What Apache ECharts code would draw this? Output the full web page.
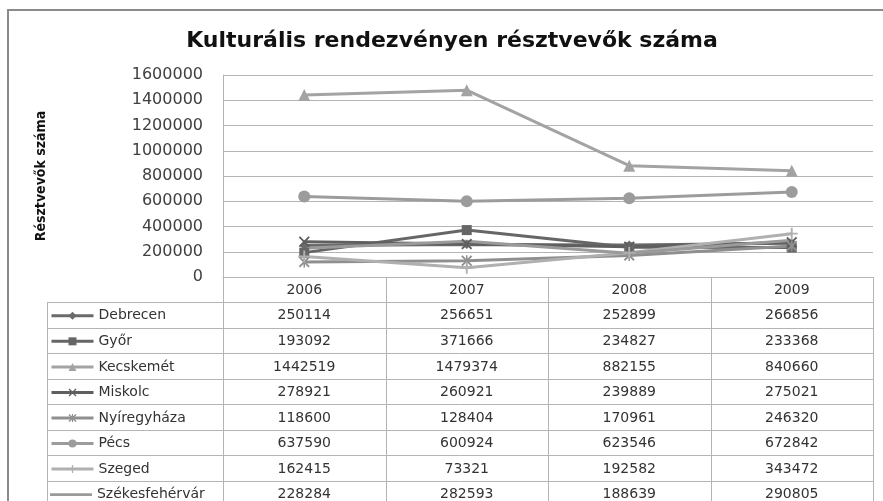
<!DOCTYPE html>
<html>
<head>
<meta charset="utf-8">
<script src="https://cdn.jsdelivr.net/npm/echarts@6/dist/echarts.min.js"></script>
<style>
html,body{margin:0;padding:0;background:#fff;overflow:hidden;}
#c{width:883px;height:501px;}
</style>
</head>
<body>
<div id="c"></div>
<script>
// ---- data ----
const years = ['2006', '2007', '2008', '2009'];
const cities = ['Debrecen', 'Győr', 'Kecskemét', 'Miskolc', 'Nyíregyháza', 'Pécs', 'Szeged', 'Székesfehérvár'];
const debrecen = [250114, 256651, 252899, 266856];
const gyor = [193092, 371666, 234827, 233368];
const kecskemet = [1442519, 1479374, 882155, 840660];
const miskolc = [278921, 260921, 239889, 275021];
const nyiregyhaza = [118600, 128404, 170961, 246320];
const pecs = [637590, 600924, 623546, 672842];
const szeged = [162415, 73321, 192582, 343472];
const szekesfehervar = [228284, 282593, 188639, 290805];
const yTicks = [0, 200000, 400000, 600000, 800000, 1000000, 1200000, 1400000, 1600000];
const titleText = 'Kulturális rendezvényen résztvevők száma';
const yTitle = 'Résztvevők száma';

const values = [debrecen, gyor, kecskemet, miskolc, nyiregyhaza, pecs, szeged, szekesfehervar];

// ---- styles ----
const X_PATH = 'path://M1.2,0L5,3.8L8.8,0L10,1.2L6.2,5L10,8.8L8.8,10L5,6.2L1.2,10L0,8.8L3.8,5L0,1.2Z';
const AST_PATH = 'path://M1.2,0L5,3.8L8.8,0L10,1.2L6.2,5L10,8.8L8.8,10L5,6.2L1.2,10L0,8.8L3.8,5L0,1.2Z M4.3,0L5.7,0L5.7,10L4.3,10Z';
const PLUS_PATH = 'path://M4.2,0L5.8,0L5.8,4.2L10,4.2L10,5.8L5.8,5.8L5.8,10L4.2,10L4.2,5.8L0,5.8L0,4.2L4.2,4.2Z';
const LINE_ICON = 'path://M0,3.6L42,3.6L42,6.4L0,6.4Z M0,0L0.01,0L0.01,0.01Z M0,10L0.01,10L0.01,10.01Z';
const styles = [
  {color: '#6b6b6b', symbol: 'diamond', size: 9},
  {color: '#666666', symbol: 'rect', size: 10},
  {color: '#a3a3a3', symbol: 'triangle', size: 12},
  {color: '#5f5f5f', symbol: X_PATH, size: 11},
  {color: '#8f8f8f', symbol: AST_PATH, size: 11},
  {color: '#9c9c9c', symbol: 'circle', size: 12},
  {color: '#b0b0b0', symbol: PLUS_PATH, size: 12},
  {color: '#9a9a9a', symbol: 'none', size: 0}
];

// ---- layout ----
const GL = 223, GT = 75, GW = 650, GH = 202;
const colW = GW / years.length;
const headTop = GT + GH;          // 277
const rowTop = headTop + 25;      // 302
const rowH = 25.55;
const tableLeft = 47;
const lineColor = '#b4b4b4';
const txtFont = '14px "DejaVu Sans", sans-serif';

const graphics = [];
// frame (top and left edges)
graphics.push({type: 'polyline', shape: {points: [[8, 520], [8, 10], [883, 10]]}, style: {stroke: '#8a8a8a', lineWidth: 2, fill: null}, z: 10});
// title
graphics.push({type: 'text', style: {x: 452, y: 41, text: titleText, font: 'bold 22px "DejaVu Sans", sans-serif', fill: '#111', align: 'center', verticalAlign: 'middle'}});
// table vertical lines
for (let c = 0; c <= years.length; c++) {
  const x = Math.round(GL + colW * c) + 0.5;
  graphics.push({type: 'line', shape: {x1: x, y1: headTop, x2: x, y2: 520}, style: {stroke: lineColor, lineWidth: 1}});
}
graphics.push({type: 'line', shape: {x1: tableLeft + 0.5, y1: rowTop, x2: tableLeft + 0.5, y2: 520}, style: {stroke: lineColor, lineWidth: 1}});
// table horizontal lines
for (let r = 0; r <= cities.length; r++) {
  const y = Math.round(rowTop + rowH * r) + 0.5;
  graphics.push({type: 'line', shape: {x1: tableLeft, y1: y, x2: GL + GW + 1, y2: y}, style: {stroke: lineColor, lineWidth: 1}});
}
// cell values
values.forEach((arr, r) => {
  arr.forEach((v, c) => {
    graphics.push({type: 'text', style: {x: GL + colW * (c + 0.5), y: rowTop + rowH * (r + 0.5) + 1, text: String(v), font: txtFont, fill: '#333', align: 'center', verticalAlign: 'middle'}});
  });
});

// legends, one per table row
const legends = cities.map((name, r) => {
  const lg = {
    data: [name],
    left: 50,
    top: rowTop + rowH * (r + 0.5) - 6,
    padding: 0,
    itemWidth: 42,
    itemHeight: 10,
    itemGap: 0,
    selectedMode: false,
    lineStyle: {width: 3},
    textStyle: {fontFamily: '"DejaVu Sans", sans-serif', fontSize: 14, color: '#333', padding: [2, 0, 0, 0]}
  };
  if (styles[r].symbol === 'none') {
    lg.icon = LINE_ICON;
    lg.itemStyle = {color: styles[r].color};
  }
  return lg;
});

const series = cities.map((name, i) => ({
  name: name,
  type: 'line',
  data: values[i],
  symbol: styles[i].symbol,
  symbolSize: styles[i].size,
  showSymbol: styles[i].symbol !== 'none',
  lineStyle: {width: 3, color: styles[i].color},
  itemStyle: {color: styles[i].color},
  emphasis: {disabled: true},
  animation: false
}));

const chart = echarts.init(document.getElementById('c'), null, {renderer: 'canvas'});
chart.setOption({
  backgroundColor: '#fff',
  animation: false,
  grid: {left: GL, top: GT, width: GW, height: GH, containLabel: false},
  legend: legends,
  xAxis: {
    type: 'category',
    data: years,
    boundaryGap: true,
    axisLine: {show: true, lineStyle: {color: lineColor, width: 1}},
    axisTick: {show: false},
    axisLabel: {margin: 6, fontFamily: '"DejaVu Sans", sans-serif', fontSize: 14, color: '#333'},
    splitLine: {show: false}
  },
  yAxis: {
    type: 'value',
    min: yTicks[0],
    max: yTicks[yTicks.length - 1],
    interval: yTicks[1] - yTicks[0],
    name: yTitle,
    nameLocation: 'middle',
    nameRotate: 90,
    nameGap: 175,
    nameTextStyle: {fontFamily: '"DejaVu Sans Condensed", "Liberation Sans Narrow", sans-serif', fontWeight: 'bold', fontSize: 14, color: '#111'},
    axisLine: {show: true, lineStyle: {color: lineColor}},
    axisTick: {show: false},
    axisLabel: {margin: 20, fontFamily: '"DejaVu Sans", sans-serif', fontSize: 16, color: '#404040', formatter: v => String(v)},
    splitLine: {show: true, lineStyle: {color: lineColor, width: 1}}
  },
  graphic: graphics,
  series: series
});
</script>
</body>
</html>
